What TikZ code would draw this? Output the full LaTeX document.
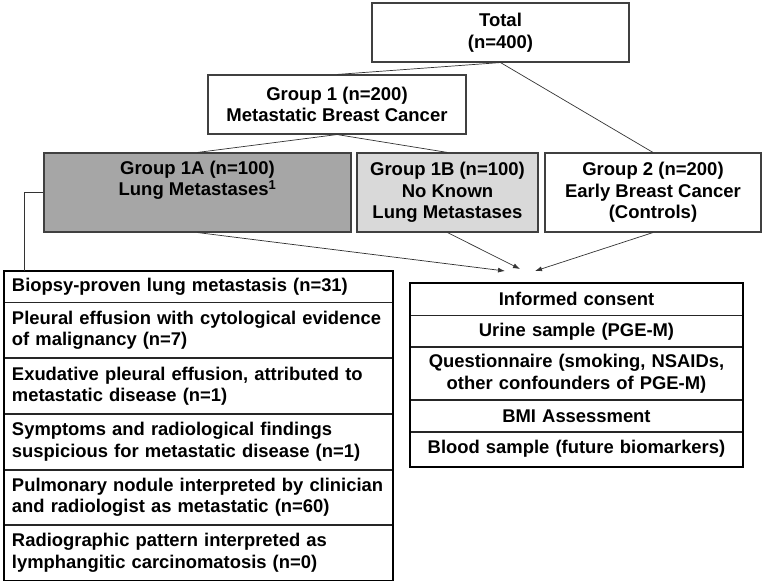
\documentclass[tikz,border=0pt]{standalone}
\usepackage{fontspec}
\setmainfont{Liberation Sans}
\usetikzlibrary{positioning,arrows.meta}

\begin{document}
\begin{tikzpicture}[x=1pt,y=-1pt,
  grp/.style={draw=black!75,line width=1.1pt,align=center,inner sep=0pt,
    font=\bfseries\fontsize{18.5}{21.5}\selectfont},
  lrow/.style={draw=black!85,line width=0.8pt,minimum height=#1,text width=373pt,
    inner xsep=8pt,inner ysep=0pt,align=left,font=\bfseries\fontsize{18.4}{21.7}\selectfont},
  rrow/.style={draw=black!85,line width=0.8pt,minimum height=#1,text width=317pt,
    inner xsep=8pt,inner ysep=0pt,align=center,font=\bfseries\fontsize{18.4}{21.7}\selectfont},
  link/.style={draw=black!80,line width=0.7pt},
  arr/.style={link,-{Latex[length=7pt,width=5pt]}}]
\useasboundingbox (0,0) rectangle (764,581);

\node[grp,minimum width=257pt,minimum height=59pt] (total) at (500.5,32.5) {Total\\(n=400)};
\node[grp,minimum width=258pt,minimum height=59pt] (g1) at (337,104.5) {Group 1 (n=200)\\Metastatic Breast Cancer};
\node[grp,fill=black!35,minimum width=307pt,minimum height=79pt] (g1a) at (197.5,192.5) {Group 1A (n=100)\\Lung Metastases\textsuperscript{1}\\\strut};
\node[grp,fill=black!15,minimum width=181pt,minimum height=79pt] (g1b) at (447.5,192.5) {Group 1B (n=100)\\No Known\\Lung Metastases};
\node[grp,minimum width=216pt,minimum height=79pt] (g2) at (653,192.5) {Group 2 (n=200)\\Early Breast Cancer\\(Controls)};

\node[lrow=31pt] (r1) at (198.5,286.5) {Biopsy-proven lung metastasis (n=31)};
\node[lrow=55pt,below=0pt of r1] (r2) {Pleural effusion with cytological evidence\\of malignancy (n=7)};
\node[lrow=55pt,below=0pt of r2] (r3) {Exudative pleural effusion, attributed to\\metastatic disease (n=1)};
\node[lrow=55pt,below=0pt of r3] (r4) {Symptoms and radiological findings\\suspicious for metastatic disease (n=1)};
\node[lrow=54pt,below=0pt of r4] (r5) {Pulmonary nodule interpreted by clinician\\and radiologist as metastatic (n=60)};
\node[lrow=56pt,below=0pt of r5] (r6) {Radiographic pattern interpreted as\\lymphangitic carcinomatosis (n=0)};
\draw[line width=2pt] (r1.north west) rectangle (r6.south east);

\node[rrow=32pt] (c1) at (576.5,299) {Informed consent};
\node[rrow=31pt,below=0pt of c1] (c2) {Urine sample (PGE-M)};
\node[rrow=52pt,below=0pt of c2] (c3) {Questionnaire (smoking, NSAIDs,\\other confounders of PGE-M)};
\node[rrow=31pt,below=0pt of c3] (c4) {BMI Assessment};
\node[rrow=34pt,below=0pt of c4] (c5) {Blood sample (future biomarkers)};
\draw[line width=2pt] (c1.north west) rectangle (c5.south east);

\coordinate (ta) at (505,271);
\coordinate (tb) at (520,269);
\coordinate (tc) at (535,271);

\draw[link] (total.south) -- (g1.north);
\draw[link] (total.south) -- (g2.north);
\draw[link] (g1.south) -- (g1a.north);
\draw[link] (g1.south) -- (g1b.north);
\draw[arr] (g1a.south) -- (ta);
\draw[arr] (g1b.south) -- (tb);
\draw[arr] (g2.south) -- (tc);
\draw[link] (g1a.west) -| ([xshift=21pt]r1.north west);
\end{tikzpicture}
\end{document}
